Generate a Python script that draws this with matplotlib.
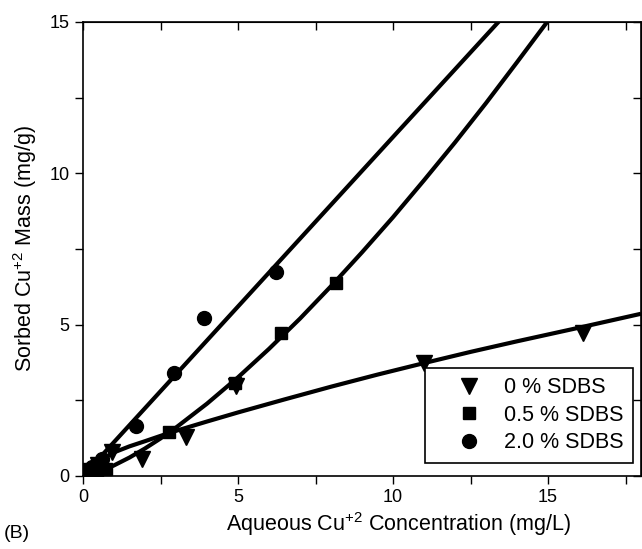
import matplotlib
matplotlib.use("Agg")
import matplotlib.pyplot as plt

plt.rcParams['font.family'] = ['Liberation Sans', 'DejaVu Sans']
plt.rcParams['mathtext.fontset'] = 'custom'
plt.rcParams['mathtext.rm'] = 'Liberation Sans'
plt.rcParams['mathtext.it'] = 'Liberation Sans'

tri_x = [0.2, 0.5, 0.95, 1.89, 3.33, 4.93, 11.0, 16.13]
tri_y = [0.15, 0.35, 0.8, 0.57, 1.29, 2.97, 3.73, 4.72]
sq_x = [0.15, 0.45, 0.75, 2.79, 4.90, 6.39, 8.15]
sq_y = [0.08, 0.15, 0.22, 1.44, 3.06, 4.74, 6.38]
circ_x = [0.1, 0.3, 0.6, 1.70, 2.93, 3.90, 6.23]
circ_y = [0.1, 0.3, 0.55, 1.65, 3.41, 5.22, 6.74]

# fitted curves
fit0_x = [0, 0.3, 0.6, 1.0, 1.5, 2.0, 2.8, 4, 5, 6.5, 8, 9.5, 11, 12.5, 14, 16, 18]
fit0_y = [0, 0.3, 0.55, 0.78, 0.98, 1.15, 1.43, 1.8, 2.1, 2.53, 2.95, 3.35, 3.73, 4.1, 4.45, 4.9, 5.36]
fit05_x = [0, 0.5, 1, 1.5, 2, 2.5, 3, 4, 5, 6, 7, 8, 9, 10, 11, 12, 13, 14, 15, 15.3]
fit05_y = [0, 0.13, 0.35, 0.61, 0.91, 1.24, 1.6, 2.39, 3.26, 4.2, 5.2, 6.27, 7.39, 8.55,
           9.77, 11.02, 12.32, 13.67, 15.04, 15.45]
fit20_x = [0, 3, 6, 10, 13.4, 13.8]
fit20_y = [0, 3.36, 6.72, 11.2, 15.0, 15.45]

labels = ["0 % SDBS", "0.5 % SDBS", "2.0 % SDBS"]

fig = plt.figure(figsize=(6.42, 5.49), dpi=100)
ax = fig.add_axes([83 / 642, 73 / 549, 558 / 642, 454 / 549])

lw = 3.0
ax.plot(fit0_x, fit0_y, color='black', lw=lw, solid_capstyle='butt')
ax.plot(fit05_x, fit05_y, color='black', lw=lw, solid_capstyle='butt')
ax.plot(fit20_x, fit20_y, color='black', lw=lw, solid_capstyle='butt')

ax.plot(tri_x, tri_y, 'v', color='black', ms=11, ls='none', label=labels[0])
ax.plot(sq_x, sq_y, 's', color='black', ms=9, ls='none', label=labels[1])
ax.plot(circ_x, circ_y, 'o', color='black', ms=10, ls='none', label=labels[2])

ax.set_xlim(0, 18)
ax.set_ylim(0, 15)
ax.set_xticks([0, 5, 10, 15])
ax.set_xticks([2.5, 7.5, 12.5, 17.5], minor=True)
ax.set_yticks([0, 5, 10, 15])
ax.set_yticks([2.5, 7.5, 12.5], minor=True)
ax.tick_params(which='both', direction='out', length=6, width=1, labelsize=13, colors='black')
for s in ax.spines.values():
    s.set_linewidth(1.2)

# mirrored ticks on top and right, pointing inward
top = ax.secondary_xaxis('top')
top.set_xticks([0, 5, 10, 15, 2.5, 7.5, 12.5, 17.5])
top.tick_params(direction='in', length=6, width=1, labeltop=False)
right = ax.secondary_yaxis('right')
right.set_yticks([0, 5, 10, 15, 2.5, 7.5, 12.5])
right.tick_params(direction='in', length=6, width=1, labelright=False)

ax.set_xlabel(r'Aqueous Cu$^{\mathrm{+2}}$ Concentration (mg/L)', fontsize=15.5)
ax.xaxis.set_label_coords(0.5 + 36 / 558, -0.075)
ax.set_ylabel(r'Sorbed Cu$^{\mathrm{+2}}$ Mass (mg/g)', fontsize=15.5, labelpad=8)

leg = ax.legend(loc='lower right', bbox_to_anchor=(0.9857, 0.0286), borderaxespad=0,
                fontsize=15.5, frameon=True, fancybox=False, framealpha=1,
                handlelength=3.2, handletextpad=0.0, borderpad=0.45, labelspacing=0.3)
leg.get_frame().set_edgecolor('black')
leg.get_frame().set_linewidth(1.2)

fig.text(0.006, 0.02, '(B)', fontsize=14)

fig.savefig('out.png', dpi=100)
